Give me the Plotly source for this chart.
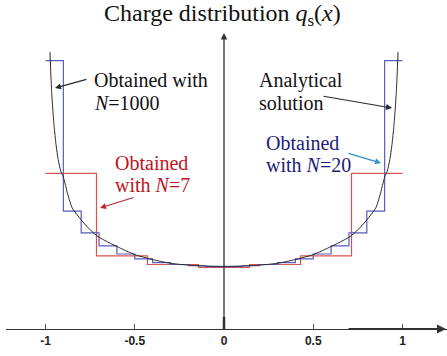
import plotly.graph_objects as go

# ---- data ----
curve_x = [-0.975, -0.97, -0.965, -0.958, -0.95, -0.94, -0.93, -0.915, -0.9, -0.875, -0.85, -0.8, -0.75, -0.7,
           -0.6, -0.5, -0.4, -0.3, -0.2, -0.1, 0.0,
           0.1, 0.2, 0.3, 0.4, 0.5, 0.6, 0.7, 0.75, 0.8, 0.85, 0.875, 0.9, 0.915, 0.93, 0.94, 0.95, 0.958,
           0.965, 0.97, 0.975]
curve_q = [4.47, 4.1, 3.8, 3.5, 3.22, 2.95, 2.75, 2.55, 2.45, 2.17, 1.95, 1.76, 1.6, 1.48,
           1.33, 1.2, 1.12, 1.06, 1.03, 1.015, 1.01,
           1.015, 1.03, 1.06, 1.12, 1.2, 1.33, 1.48, 1.6, 1.76, 1.95, 2.17, 2.45, 2.55, 2.75, 2.95, 3.22, 3.5,
           3.8, 4.1, 4.47]

n20_edges = [-1.0, -0.9, -0.8, -0.7, -0.6, -0.5, -0.4, -0.3, -0.2, -0.1, 0.0,
             0.1, 0.2, 0.3, 0.4, 0.5, 0.6, 0.7, 0.8, 0.9, 1.0]
n20_q = [4.33, 1.90, 1.55, 1.34, 1.21, 1.13, 1.07, 1.04, 1.02, 1.005,
         1.005, 1.02, 1.04, 1.07, 1.13, 1.21, 1.34, 1.55, 1.90, 4.33]

n7_edges = [-1.0, -5 / 7, -3 / 7, -1 / 7, 1 / 7, 3 / 7, 5 / 7, 1.0]
n7_q = [2.51, 1.18, 1.04, 0.995, 1.04, 1.18, 2.51]

tick_vals = [-1, -0.5, 0, 0.5, 1]
tick_text = ["-1", "-0.5", "0", "0.5", "1"]

title_text = "Charge distribution <i>q</i><sub>s</sub>(<i>x</i>)"

# ---- pixel helpers (for annotation placement only) ----
X0PX, UX = 224.0, 178.5
Y0PX, UY = 329.0, 62.0


def dx(px):
    return (px - X0PX) / UX


def dy(py):
    return (Y0PX - py) / UY


RED = "#d9564f"
BLUE = "#5b5bc8"
BLACK = "#2a2a2a"
SERIF = "Liberation Serif, Times New Roman, serif"

fig = go.Figure()
fig.add_trace(go.Scatter(x=n7_edges, y=n7_q + [n7_q[-1]], mode="lines", line=dict(color=RED, width=1.2, shape="hv"),
                         showlegend=False, hoverinfo="skip"))
fig.add_trace(go.Scatter(x=n20_edges, y=n20_q + [n20_q[-1]], mode="lines", line=dict(color=BLUE, width=1.2, shape="hv"),
                         showlegend=False, hoverinfo="skip"))
fig.add_trace(go.Scatter(x=curve_x, y=curve_q, mode="lines", line=dict(color=BLACK, width=1.0, shape="spline", smoothing=0.6),
                         showlegend=False, hoverinfo="skip"))

x_lo, x_hi = dx(6), dx(447)
y_lo, y_hi = 0, dy(0)

annotations = []


def txt(s, pxl, pyc, color, size=20, anchor="left"):
    annotations.append(dict(x=dx(pxl), y=dy(pyc), xref="x", yref="y", text=s, showarrow=False,
                            xanchor=anchor, yanchor="middle",
                            font=dict(family=SERIF, size=size, color=color)))


def arrow(p0, p1, color, width=1.2):
    annotations.append(dict(x=dx(p1[0]), y=dy(p1[1]), ax=dx(p0[0]), ay=dy(p0[1]), xref="x", yref="y",
                            axref="x", ayref="y", text="", showarrow=True, arrowhead=2, arrowsize=1,
                            arrowwidth=width, arrowcolor=color))


# title
txt(title_text, 222, 15, "#111111", size=24, anchor="center")
# labels
txt("Obtained with", 92, 80, "#111111")
txt("<i>N</i>=1000", 92, 103, "#111111")
txt("Analytical", 257, 80, "#111111")
txt("solution", 257, 103, "#111111")
txt("Obtained", 113, 163, "#c0141e")
txt("with <i>N</i>=7", 113, 185, "#c0141e")
txt("Obtained", 264, 143, "#1c1c7a")
txt("with <i>N</i>=20", 264, 165, "#1c1c7a")
# arrows
arrow((88, 79), (55, 88), BLACK)
arrow((322, 96), (392, 108), BLACK)
arrow((135, 197), (100, 208), "#c0262e")
arrow((347, 153), (381, 163), "#2f8fc8")
# axes arrows
arrow((224, 329), (224, 33), "#333333", 1.3)
arrow((347, 329), (446, 329), "#333333", 1.8)

fig.update_layout(
    width=447, height=356,
    margin=dict(l=6, r=0, t=0, b=27),
    paper_bgcolor="white", plot_bgcolor="white",
    showlegend=False,
    annotations=annotations,
    shapes=[dict(type="line", xref="x", yref="y", x0=0, x1=0, y0=0, y1=dy(317), line=dict(color="#333333", width=2.5))],
    xaxis=dict(range=[x_lo, x_hi], showgrid=False, zeroline=False, showline=True, linecolor="#333333", linewidth=1.2,
               ticks="inside", ticklen=5, tickwidth=1, tickcolor="#555555",
               tickvals=tick_vals, ticktext=tick_text,
               tickfont=dict(family="Liberation Sans, Arial, sans-serif", size=12, color="#222222", weight="bold"),
               fixedrange=True),
    yaxis=dict(range=[y_lo, y_hi], showgrid=False, zeroline=False, showline=False, showticklabels=False,
               ticks="", fixedrange=True),
)

fig.write_html("out.html", config={"displayModeBar": False},
               post_script="document.body.style.margin='0';document.body.style.overflow='hidden';")
